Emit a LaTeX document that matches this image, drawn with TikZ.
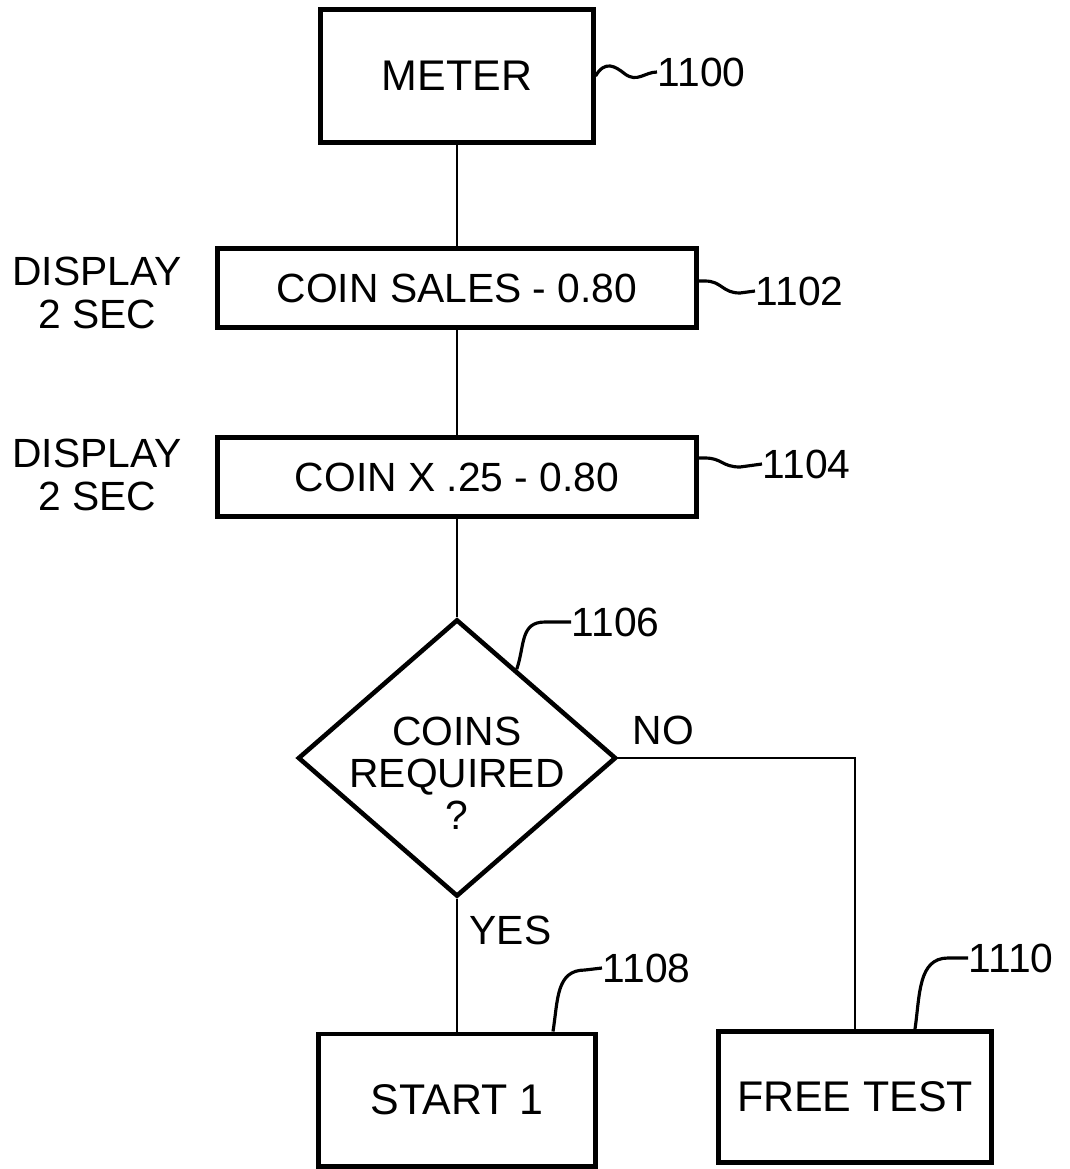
\documentclass[tikz,border=0pt]{standalone}
\usepackage{fontspec}
\setmainfont{Liberation Sans}
\usetikzlibrary{positioning,shapes.geometric,calc}
\tikzset {
    box/.style={draw, line width=1.4pt, align=center, inner sep=2pt},
    bigbox/.style={box, font=\fontsize{12.2}{14}\selectfont},
    decision/.style={draw, diamond, line width=1.3pt, minimum width=3.18cm,
        minimum height=2.77cm, inner sep=0pt},
    note/.style={align=center},
    refnum/.style={anchor=west, inner sep=0pt},
    leader/.style={line width=0.9pt},
    flow/.style={line width=0.6pt},
}

\begin{document}
\begin{tikzpicture}[
        x=0.01cm, y=-0.01cm,
        font=\fontsize{11.6}{12}\selectfont,
    ]

        \useasboundingbox (0,0) rectangle (1069,1169);

        \node[bigbox, minimum width=2.72cm, minimum height=1.33cm] (meter) at (457,76) {METER};
        \node[box, minimum width=4.78cm, minimum height=0.79cm] (coinSales) at (457,288) {COIN SALES - 0.80};
        \node[box, minimum width=4.78cm, minimum height=0.79cm] (coinValue) at (457,477) {COIN X .25 - 0.80};
        \node[decision] (coinsRequired) at (457,758) {};
        \node[note] (coinsQuestion) at (457,773) {COINS\\REQUIRED\\?};
        \node[bigbox, minimum width=2.77cm, minimum height=1.32cm] (startOne) at (457,1100) {START 1};
        \node[bigbox, minimum width=2.73cm, minimum height=1.31cm] (freeTest) at (855,1097) {FREE TEST};

        \node[note] (displaySales) at (97,293) {DISPLAY\\2 SEC};
        \node[note] (displayValue) at (97,475) {DISPLAY\\2 SEC};

        \node[refnum] (refMeter) at (657,72) {1100};
        \node[refnum] (refSales) at (755,291) {1102};
        \node[refnum] (refValue) at (762,464) {1104};
        \node[refnum] (refDecision) at (571,622) {1106};
        \node[refnum] (refStart) at (602,968) {1108};
        \node[refnum] (refFree) at (968,958) {1110};

        \draw[flow] (meter) -- (coinSales);
        \draw[flow] (coinSales) -- (coinValue);
        \draw[flow] (coinValue) -- (coinsRequired);
        \draw[flow] (coinsRequired) -- node[pos=0.24, right]{YES} (startOne);
        \draw[flow] (coinsRequired.east) -| node[pos=0.095, above]{NO} (freeTest.north);

        \draw[leader] (meter.east) .. controls (605,60) and (615,66) .. (625,74)
            .. controls (637,83) and (645,72) .. (refMeter.west);
        \draw[leader] (696,281) -- (705,281) .. controls (722,281) and (722,293) .. (740,293)
            -- (refSales.west);
        \draw[leader] (696,458) -- (705,458) .. controls (722,458) and (722,467) .. (740,467)
            -- (refValue.west);
        \draw[leader] ($(coinsRequired.north)!0.37!(coinsRequired.east)$)
            .. controls (525,645) and (520,622) .. (545,622) -- (refDecision.west);
        \draw[leader] ($(startOne.north)+(96,0)$)
            .. controls (558,1000) and (556,970) .. (585,970) -- (refStart.west);
        \draw[leader] ($(freeTest.north)+(60,0)$)
            .. controls (920,995) and (918,958) .. (948,958) -- (refFree.west);

    \end{tikzpicture}
\end{document}
